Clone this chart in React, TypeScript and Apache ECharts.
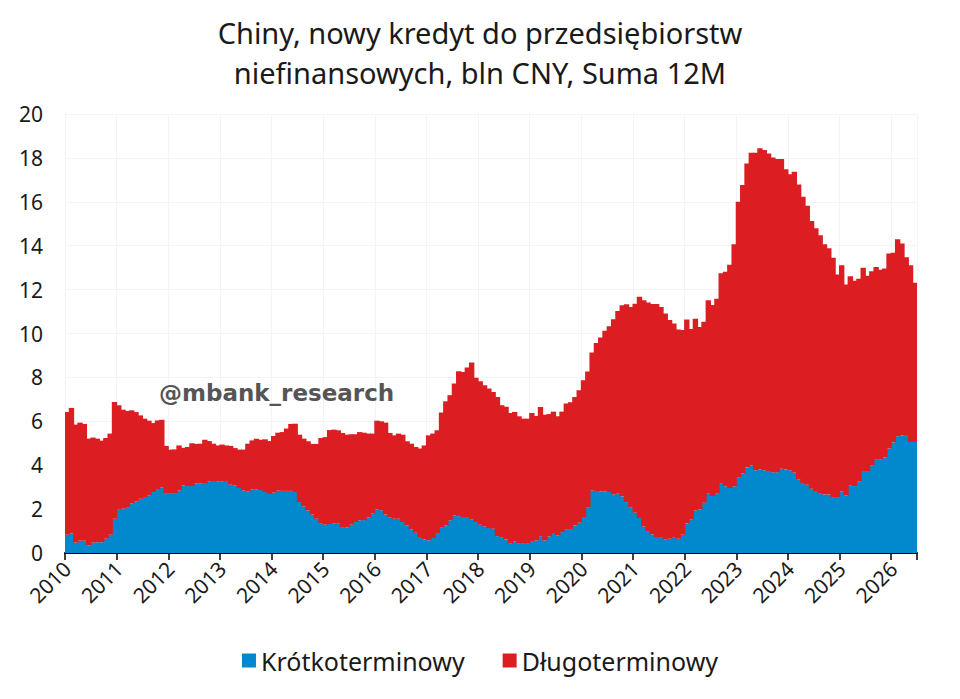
import React, { useEffect, useRef } from "react";
import * as echarts from "echarts";

const titleText = "Chiny, nowy kredyt do przedsiębiorstw\nniefinansowych, bln CNY, Suma 12M";
const watermark = "@mbank_research";
const seriesNames = ["Krótkoterminowy", "Długoterminowy"];
const startYear = 2010;
const monthCount = 198;
const yTicks = { min: 0, max: 20, interval: 2 };

const shortTerm = [
  0.83, 0.89, 0.47, 0.56, 0.56, 0.35, 0.47, 0.49, 0.49, 0.65, 0.83, 1.56,
  1.97, 2.02, 2.09, 2.25, 2.35, 2.47, 2.55, 2.63, 2.78, 2.88, 2.99, 2.73,
  2.73, 2.73, 2.85, 3.08, 3.05, 3.05, 3.17, 3.16, 3.15, 3.27, 3.24, 3.27,
  3.27, 3.24, 3.11, 3.08, 2.96, 2.85, 2.8, 2.9, 2.9, 2.87, 2.78, 2.69,
  2.75, 2.84, 2.83, 2.83, 2.83, 2.78, 2.32, 2.12, 1.94, 1.75, 1.56, 1.36,
  1.29, 1.32, 1.35, 1.36, 1.18, 1.17, 1.29, 1.41, 1.49, 1.5, 1.61, 1.79,
  1.99, 1.95, 1.75, 1.61, 1.56, 1.56, 1.41, 1.26, 1.08, 0.92, 0.73, 0.61,
  0.58, 0.68, 0.91, 1.18, 1.26, 1.49, 1.71, 1.68, 1.64, 1.64, 1.53, 1.41,
  1.29, 1.22, 1.14, 1.11, 0.77, 0.72, 0.61, 0.42, 0.54, 0.45, 0.42, 0.42,
  0.54, 0.57, 0.77, 0.57, 0.75, 0.91, 0.8, 0.95, 1.09, 1.09, 1.26, 1.38,
  1.64, 2.09, 2.85, 2.83, 2.81, 2.81, 2.78, 2.67, 2.7, 2.58, 2.32, 2.09,
  1.85, 1.6, 1.21, 1.0, 0.85, 0.73, 0.7, 0.62, 0.65, 0.7, 0.65, 0.83,
  1.34, 1.53, 1.94, 1.98, 2.29, 2.7, 2.6, 2.7, 3.16, 3.04, 2.96, 3.04,
  3.43, 3.62, 3.89, 3.99, 3.77, 3.8, 3.77, 3.74, 3.68, 3.68, 3.84, 3.8,
  3.77, 3.67, 3.36, 3.19, 3.11, 2.93, 2.83, 2.7, 2.66, 2.66, 2.52, 2.55,
  2.81, 2.62, 3.08, 3.05, 3.27, 3.74, 3.74, 3.99, 4.25, 4.25, 4.35, 4.76,
  5.03, 5.32, 5.36, 5.38, 5.06, 5.06,
];

const longTerm = [
  5.59, 5.72, 5.38, 5.38, 5.32, 4.86, 4.79, 4.72, 4.63, 4.59, 4.61, 5.32,
  4.76, 4.51, 4.38, 4.25, 4.07, 3.8, 3.57, 3.4, 3.14, 3.16, 3.08, 2.15,
  1.98, 1.99, 2.05, 1.71, 1.78, 1.95, 1.8, 1.82, 2.01, 1.83, 1.74, 1.63,
  1.67, 1.66, 1.77, 1.7, 1.75, 1.86, 2.18, 2.23, 2.31, 2.29, 2.4, 2.41,
  2.58, 2.64, 2.68, 2.84, 3.05, 3.11, 3.07, 3.09, 3.15, 3.22, 3.41, 3.88,
  3.99, 4.28, 4.27, 4.23, 4.29, 4.22, 4.12, 4.0, 4.02, 3.98, 3.83, 3.65,
  4.04, 4.05, 4.19, 3.86, 3.8, 3.88, 3.98, 3.83, 3.9, 3.91, 4.03, 4.29,
  4.78, 4.76, 4.68, 5.22, 5.65, 5.7, 6.01, 6.6, 6.61, 6.81, 7.15, 6.57,
  6.53, 6.42, 6.35, 6.23, 6.34, 6.01, 6.05, 5.96, 5.88, 5.78, 5.7, 5.7,
  5.84, 5.67, 5.88, 5.73, 5.58, 5.53, 5.43, 5.49, 5.72, 5.78, 5.85, 6.03,
  6.23, 6.18, 6.28, 6.74, 7.01, 7.31, 7.55, 7.98, 8.33, 8.71, 9.01, 9.12,
  9.51, 10.07, 10.31, 10.41, 10.49, 10.61, 10.51, 10.29, 9.96, 9.76, 9.53, 9.33,
  9.3, 8.67, 8.73, 8.32, 8.24, 8.82, 8.7, 8.88, 9.58, 9.77, 10.17, 11.03,
  12.57, 13.14, 13.86, 14.25, 14.47, 14.64, 14.59, 14.46, 14.34, 14.27, 14.11, 13.68,
  13.48, 13.7, 13.43, 13.04, 12.71, 12.19, 11.96, 11.78, 11.41, 11.22, 10.93, 10.14,
  10.3, 9.61, 9.53, 9.35, 9.22, 9.25, 8.89, 8.85, 8.78, 8.66, 8.61, 8.89,
  8.65, 8.97, 8.74, 8.09, 8.05, 7.25,
];

const categories: string[] = [];
for (let i = 0; i < monthCount; i++) {
  const y = startYear + Math.floor(i / 12);
  const m = (i % 12) + 1;
  categories.push(`${y}-${m < 10 ? "0" + m : m}`);
}

const BLUE = "#0288cc";
const RED = "#dc1e22";
const FONT = "'Noto Sans', sans-serif";

export default function App() {
  const ref = useRef<HTMLDivElement>(null);
  useEffect(() => {
    if (!ref.current) return;
    const chart = echarts.init(ref.current, undefined, { renderer: "svg" });
    const isYear = (idx: number) => idx % 12 === 0;
    chart.setOption({
      animation: false,
      backgroundColor: "#ffffff",
      textStyle: { fontFamily: FONT },
      title: {
        text: titleText,
        left: "center",
        top: 7,
        textStyle: {
          fontFamily: FONT,
          fontSize: 29,
          fontWeight: "normal",
          color: "#1a1a1a",
          lineHeight: 40,
        },
      },
      legend: {
        bottom: 21,
        left: "center",
        icon: "rect",
        itemWidth: 14,
        itemHeight: 14,
        itemGap: 38,
        textStyle: { fontFamily: FONT, fontSize: 25, color: "#1a1a1a" },
        data: seriesNames,
      },
      grid: { left: 65, right: 43, top: 114, bottom: 146 },
      xAxis: {
        type: "category",
        data: categories,
        boundaryGap: true,
        axisLine: { lineStyle: { color: "#000", width: 2 } },
        axisTick: {
          show: true,
          interval: (idx: number) => isYear(idx),
          length: 7,
          lineStyle: { color: "#000", width: 1.5 },
        },
        axisLabel: {
          interval: (idx: number) => isYear(idx),
          formatter: (v: string) => v.slice(0, 4),
          rotate: 45,
          fontSize: 21,
          color: "#1a1a1a",
          fontFamily: FONT,
          margin: 12,
        },
        splitLine: {
          show: true,
          interval: (idx: number) => isYear(idx),
          lineStyle: { color: "#f4f4f4", width: 1 },
        },
      },
      yAxis: {
        type: "value",
        min: yTicks.min,
        max: yTicks.max,
        interval: yTicks.interval,
        axisLine: { show: false },
        axisTick: { show: false },
        axisLabel: { fontSize: 21, color: "#1a1a1a", fontFamily: FONT, margin: 22 },
        splitLine: { lineStyle: { color: "#f4f4f4", width: 1 } },
      },
      graphic: [
        {
          type: "text",
          left: 159,
          top: 381,
          style: {
            text: watermark,
            fontFamily: "'DejaVu Sans', sans-serif",
            fontWeight: "bold",
            fontSize: 23,
            fill: "#555555",
          },
          z: 100,
        },
      ],
      series: [
        {
          name: seriesNames[0],
          type: "bar",
          stack: "total",
          data: shortTerm,
          barWidth: "125%",
          itemStyle: { color: BLUE },
        },
        {
          name: seriesNames[1],
          type: "bar",
          stack: "total",
          data: longTerm,
          barWidth: "125%",
          itemStyle: { color: RED },
        },
      ],
    });
    return () => chart.dispose();
  }, []);
  return (
    <div
      ref={ref}
      style={{ position: "fixed", left: 0, top: 0, width: 960, height: 699 }}
    />
  );
}
